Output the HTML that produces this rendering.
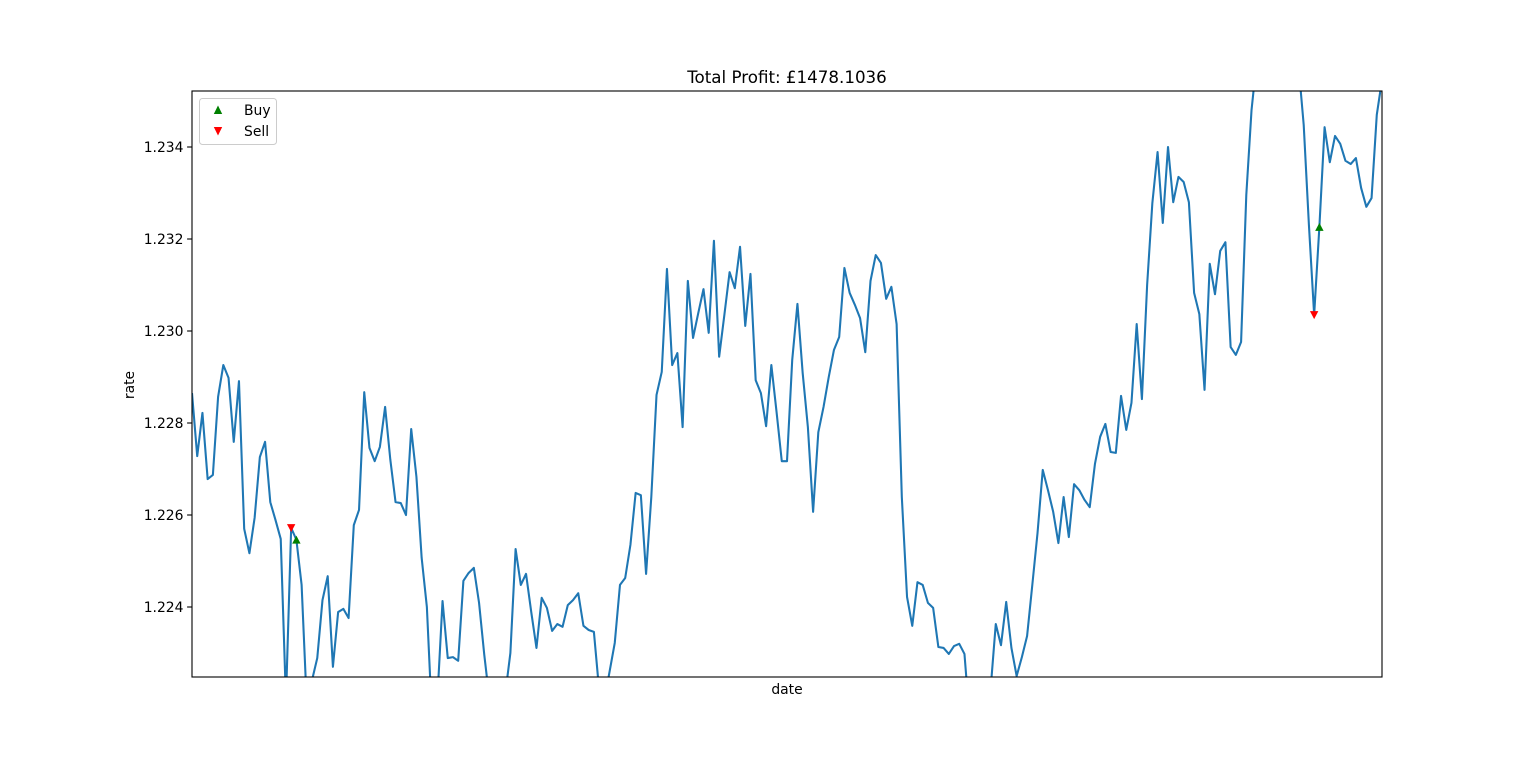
<!DOCTYPE html>
<html><head><meta charset="utf-8"><style>
html,body{margin:0;padding:0;background:#fff;}
svg{display:block;font-family:"DejaVu Sans","Liberation Sans",sans-serif;}
</style></head><body>
<svg id="chart" width="1536" height="761" viewBox="0 0 1536 761" xmlns="http://www.w3.org/2000/svg">
<rect width="1536" height="761" fill="#fff"/>
<defs><clipPath id="clip"><rect x="192" y="91" width="1190" height="586"/></clipPath></defs>
<text x="787" y="83" font-size="16.7" text-anchor="middle" fill="#000">Total Profit: £1478.1036</text>
<g id="plot" clip-path="url(#clip)"></g>
<g id="markers" clip-path="url(#clip)"></g>
<rect x="192" y="91" width="1190" height="586" fill="none" stroke="#000" stroke-width="1.1"/>
<g id="yticks"></g>
<text transform="translate(134,385) rotate(-90)" font-size="13.9" text-anchor="middle" fill="#000">rate</text>
<text x="787" y="694" font-size="13.9" text-anchor="middle" fill="#000">date</text>
<g>
<rect x="199.5" y="98.5" width="77" height="46" rx="3" fill="#fff" fill-opacity="0.8" stroke="#ccc"/>
<polygon points="218,105.5 222.2,114 213.8,114" fill="green"/>
<text x="244" y="115" font-size="13.9" fill="#000">Buy</text>
<polygon points="218,135.5 222.2,127 213.8,127" fill="red"/>
<text x="244" y="136" font-size="13.9" fill="#000">Sell</text>
</g>
</svg>
<script>
const rates = [1.22865,1.22728,1.22822,1.22678,1.22687,1.22857,1.22926,1.22898,1.22759,1.22891,
1.22570,1.22517,1.22594,1.22726,1.22759,1.22628,1.22589,1.22548,1.22198,1.22572,
1.22546,1.22448,1.22187,1.22241,1.22289,1.22415,1.22467,1.22270,1.22389,1.22396,
1.22376,1.22578,1.22611,1.22867,1.22746,1.22717,1.22748,1.22835,1.22720,1.22628,
1.22626,1.22600,1.22787,1.22683,1.22507,1.22400,1.22154,1.22198,1.22413,1.22289,
1.22291,1.22283,1.22457,1.22474,1.22485,1.22409,1.22296,1.22198,1.22154,1.22165,
1.22209,1.22300,1.22526,1.22448,1.22472,1.22389,1.22311,1.22420,1.22398,1.22348,
1.22363,1.22357,1.22404,1.22415,1.22430,1.22359,1.22350,1.22346,1.22220,1.22198,
1.22259,1.22322,1.22448,1.22463,1.22535,1.22648,1.22643,1.22472,1.22639,1.22861,
1.22911,1.23135,1.22926,1.22952,1.22791,1.23109,1.22985,1.23039,1.23091,1.22996,
1.23196,1.22944,1.23035,1.23128,1.23093,1.23183,1.23011,1.23124,1.22893,1.22865,
1.22793,1.22926,1.22824,1.22717,1.22717,1.22937,1.23059,1.22909,1.22791,1.22607,
1.22780,1.22835,1.22900,1.22959,1.22987,1.23137,1.23083,1.23057,1.23028,1.22954,
1.23109,1.23165,1.23148,1.23070,1.23096,1.23015,1.22639,1.22422,1.22359,1.22454,
1.22448,1.22409,1.22398,1.22313,1.22311,1.22298,1.22315,1.22320,1.22298,1.22154,
1.22111,1.22122,1.22154,1.22220,1.22363,1.22317,1.22411,1.22311,1.22250,1.22291,
1.22337,1.22448,1.22561,1.22698,1.22654,1.22607,1.22539,1.22639,1.22552,1.22667,
1.22654,1.22633,1.22617,1.22711,1.22770,1.22798,1.22737,1.22735,1.22859,1.22785,
1.22844,1.23015,1.22852,1.23100,1.23278,1.23389,1.23235,1.23400,1.23280,1.23335,
1.23324,1.23280,1.23083,1.23037,1.22872,1.23146,1.23080,1.23174,1.23193,1.22965,
1.22948,1.22976,1.23296,1.23480,1.23589,1.23633,1.23654,1.23643,1.23622,1.23654,
1.23633,1.23654,1.23578,1.23448,1.23230,1.23035,1.23226,1.23443,1.23367,1.23424,
1.23407,1.23370,1.23363,1.23376,1.23311,1.23270,1.23289,1.23470,1.23546];
const buyIdx = [20, 216];
const sellIdx = [19, 215];
const yTickVals = [1.224, 1.226, 1.228, 1.230, 1.232, 1.234];
const yTickLabels = ["1.224","1.226","1.228","1.230","1.232","1.234"];

const NS = "http://www.w3.org/2000/svg";
const X0 = 192, X1 = 1382, Y0 = 677, Y1 = 91;
const yMin = 1.224 - 70/46000, yMax = 1.234 + 56/46000;
const xScale = i => X0 + (X1 - X0) * i / (rates.length - 1);
const yScale = v => Y0 - (v - yMin) / (yMax - yMin) * (Y0 - Y1);

const plot = document.getElementById('plot');
const line = document.createElementNS(NS, 'polyline');
line.setAttribute('points', rates.map((v, i) => xScale(i).toFixed(2) + ',' + yScale(v).toFixed(2)).join(' '));
line.setAttribute('fill', 'none');
line.setAttribute('stroke', '#1f77b4');
line.setAttribute('stroke-width', '2.08');
line.setAttribute('stroke-linejoin', 'round');


plot.appendChild(line);

const mk = document.getElementById('markers');
const s = 4.2;
buyIdx.forEach(i => {
  const x = xScale(i), y = yScale(rates[i]);
  const p = document.createElementNS(NS, 'polygon');
  p.setAttribute('points', `${x},${y - s} ${x + s},${y + s * 0.9} ${x - s},${y + s * 0.9}`);
  p.setAttribute('fill', 'green');
  
  
  mk.appendChild(p);
});
sellIdx.forEach(i => {
  const x = xScale(i), y = yScale(rates[i]);
  const p = document.createElementNS(NS, 'polygon');
  p.setAttribute('points', `${x},${y + s} ${x + s},${y - s * 0.9} ${x - s},${y - s * 0.9}`);
  p.setAttribute('fill', 'red');
  
  
  mk.appendChild(p);
});

const yt = document.getElementById('yticks');
yTickVals.forEach((v, k) => {
  const y = yScale(v);
  const t = document.createElementNS(NS, 'line');
  t.setAttribute('x1', X0 - 4.9); t.setAttribute('x2', X0);
  t.setAttribute('y1', y); t.setAttribute('y2', y);
  t.setAttribute('stroke', '#000'); t.setAttribute('stroke-width', '1.1');
  
  
  yt.appendChild(t);
  const tx = document.createElementNS(NS, 'text');
  tx.setAttribute('x', X0 - 8.5); tx.setAttribute('y', y + 5);
  tx.setAttribute('font-size', '13.9'); tx.setAttribute('text-anchor', 'end');
  tx.textContent = yTickLabels[k];
  
  
  yt.appendChild(tx);
});
</script>
</body></html>
